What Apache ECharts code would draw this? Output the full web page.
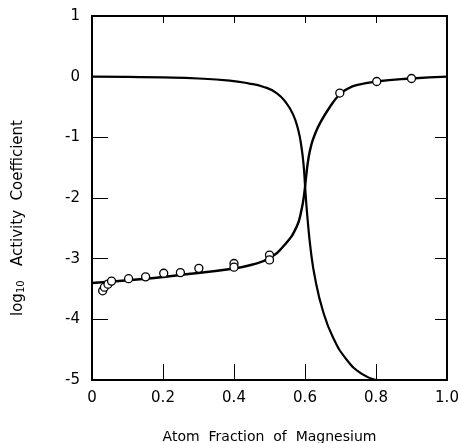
<!DOCTYPE html>
<html>
<head>
<meta charset="utf-8">
<script src="https://cdn.jsdelivr.net/npm/echarts@6/dist/echarts.min.js"></script>
<style>html,body{margin:0;padding:0;background:#fff}#c{width:460px;height:443px}</style>
</head>
<body>
<div id="c"></div>
<script>
// Curve A: decreasing branch
const curveAx = [0, 0.1, 0.2, 0.3, 0.388, 0.44, 0.482, 0.52, 0.548, 0.567, 0.581, 0.59, 0.596, 0.601, 0.607, 0.616, 0.628, 0.65, 0.679, 0.718, 0.76, 0.8];
const curveAy = [0, -0.005, -0.012, -0.03, -0.066, -0.11, -0.165, -0.27, -0.44, -0.63, -0.88, -1.16, -1.45, -1.88, -2.33, -2.85, -3.31, -3.85, -4.30, -4.67, -4.90, -5.0];
// Curve B: increasing branch (magnesium)
const curveBx = [0, 0.135, 0.247, 0.39, 0.45, 0.5, 0.543, 0.576, 0.59, 0.598, 0.604, 0.61, 0.618, 0.628, 0.642, 0.67, 0.698, 0.72, 0.745, 0.8, 0.9, 1.0];
const curveBy = [-3.40, -3.34, -3.27, -3.17, -3.10, -2.99, -2.77, -2.48, -2.2, -1.92, -1.6, -1.34, -1.12, -0.95, -0.77, -0.50, -0.29, -0.20, -0.14, -0.08, -0.03, 0];
// Measured points
const ptsX = [0.03, 0.035, 0.045, 0.055, 0.103, 0.151, 0.202, 0.249, 0.301, 0.40, 0.40, 0.50, 0.50, 0.698, 0.802, 0.90];
const ptsY = [-3.53, -3.47, -3.42, -3.37, -3.33, -3.30, -3.24, -3.23, -3.16, -3.08, -3.14, -2.94, -3.02, -0.27, -0.08, -0.03];
// Tick labels
const xTickLabels = {0: '0', 0.2: '0.2', 0.4: '0.4', 0.6: '0.6', 0.8: '0.8', 1: '1.0'};
const xTitle = 'Atom  Fraction  of  Magnesium';
const yTitleParts = ['log', '10', 'Activity  Coefficient'];

const zip = (a, b) => a.map((v, i) => [v, b[i]]);
const FONT = 'DejaVu Sans';
const chart = echarts.init(document.getElementById('c'), null, {renderer: 'canvas'});
const axisLine = {show: true, onZero: false, lineStyle: {color: '#000', width: 2}};
chart.setOption({
  animation: false,
  backgroundColor: '#fff',
  grid: {left: 92, right: 13, top: 16, bottom: 63, containLabel: false, outerBoundsMode: 'none'},
  xAxis: [
    {type: 'value', min: 0, max: 1, interval: 0.2, position: 'bottom',
     axisLine, splitLine: {show: false},
     axisTick: {inside: true, length: 16, lineStyle: {color: '#000', width: 1}},
     axisLabel: {color: '#000', fontFamily: FONT, fontSize: 15, margin: 11,
       formatter: v => xTickLabels[Math.round(v * 10) / 10] ?? ''},
     name: xTitle, nameLocation: 'middle', nameGap: 50,
     nameTextStyle: {color: '#000', fontFamily: FONT, fontSize: 14}},
    {type: 'value', min: 0, max: 1, interval: 0.2, position: 'top',
     axisLine, splitLine: {show: false},
     axisTick: {inside: true, length: 7, lineStyle: {color: '#000', width: 1}},
     axisLabel: {show: false}}
  ],
  yAxis: [
    {type: 'value', min: -5, max: 1, interval: 1, position: 'left',
     axisLine, splitLine: {show: false},
     axisTick: {inside: true, length: 16, lineStyle: {color: '#000', width: 1}},
     axisLabel: {color: '#000', fontFamily: FONT, fontSize: 15, margin: 12,
       formatter: v => String(v)}},
    {type: 'value', min: -5, max: 1, interval: 1, position: 'right',
     axisLine, splitLine: {show: false},
     axisTick: {inside: true, length: 12, lineStyle: {color: '#000', width: 1}},
     axisLabel: {show: false}}
  ],
  graphic: [{
    type: 'text', x: 18, y: 218, rotation: Math.PI / 2,
    style: {
      text: '{a|' + yTitleParts[0] + '}{s|' + yTitleParts[1] + '}{a|   ' + yTitleParts[2] + '}',
      align: 'center', verticalAlign: 'middle',
      rich: {
        a: {fontFamily: FONT, fontSize: 15, fill: '#000', color: '#000', verticalAlign: 'middle', lineHeight: 17},
        s: {fontFamily: FONT, fontSize: 10, fill: '#000', color: '#000', verticalAlign: 'bottom', lineHeight: 17, padding: [4, 0, 0, 0]}
      }
    }
  }],
  series: [
    {type: 'line', data: zip(curveAx, curveAy), showSymbol: false, smooth: 0.5,
     lineStyle: {color: '#000', width: 2.2}, z: 2},
    {type: 'line', data: zip(curveBx, curveBy), showSymbol: false, smooth: 0.5,
     lineStyle: {color: '#000', width: 2.4}, z: 2},
    {type: 'scatter', data: zip(ptsX, ptsY), symbol: 'circle', symbolSize: 8,
     itemStyle: {color: '#fff', borderColor: '#000', borderWidth: 1.3, opacity: 1}, z: 3}
  ]
});
</script>
</body>
</html>
